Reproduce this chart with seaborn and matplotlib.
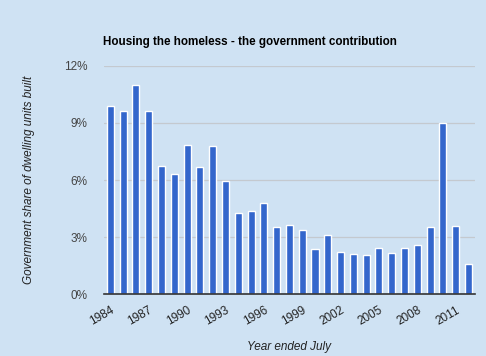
import matplotlib
matplotlib.use('Agg')
import matplotlib.pyplot as plt
import seaborn as sns
import pandas as pd
from matplotlib.ticker import FuncFormatter

# data (government share, %)
years = list(range(1984, 2013))
share = [9.91, 9.65, 11.02, 9.65, 6.75, 6.33, 7.86, 6.70, 7.81, 5.96,
         4.28, 4.38, 4.80, 3.54, 3.65, 3.38, 2.38, 3.12, 2.23, 2.12,
         2.07, 2.44, 2.17, 2.44, 2.59, 3.54, 9.01, 3.59, 1.59]
yticks = [0, 3, 6, 9, 12]

bg = '#cfe2f3'
sns.set_style('white')
plt.rcParams['font.family'] = ['Liberation Sans', 'DejaVu Sans']

df = pd.DataFrame({'year': [str(y) for y in years], 'share': share})

fig = plt.figure(figsize=(4.86, 3.56), dpi=100, facecolor=bg)
ax = fig.add_axes([0.214, 0.173, 0.763, 0.642])
ax.set_facecolor(bg)

sns.barplot(data=df, x='year', y='share', color='#3366cc', saturation=1,
            width=0.55, ax=ax, zorder=3)

ax.set_ylim(0, 12)
ax.set_xlim(-0.5, len(years) - 0.5)
ax.set_yticks(yticks)
ax.yaxis.set_major_formatter(FuncFormatter(lambda v, p: f'{v:.0f}%'))
ax.grid(axis='y', color='#c4c9cf', linewidth=0.9, zorder=0)
for s in ['top', 'right', 'left']:
    ax.spines[s].set_visible(False)
ax.spines['bottom'].set_color('#333333')
ax.spines['bottom'].set_linewidth(1.2)
ax.spines['bottom'].set_zorder(4)

pos = list(range(0, len(years), 3))
ax.set_xticks(pos)
ax.set_xticklabels([str(years[i]) for i in pos], rotation=30, ha='right',
                   rotation_mode='anchor', fontsize=8.5, color='#222222')
ax.tick_params(axis='x', length=0, pad=7)
ax.tick_params(axis='y', length=0, pad=12, labelsize=8.5, labelcolor='#444444')

ax.set_xlabel('')
ax.set_ylabel('Government share of dwelling units built', fontsize=8.5,
              style='italic', color='#222222', labelpad=21)
fig.text(0.595, 0.025, 'Year ended July', ha='center', va='center',
         fontsize=8.5, style='italic', color='#222222')

fig.text(0.515, 0.883, 'Housing the homeless - the government contribution',
         ha='center', va='center', fontsize=8.4, fontweight='bold', color='black')

fig.savefig('out.png', dpi=100, facecolor=bg)
